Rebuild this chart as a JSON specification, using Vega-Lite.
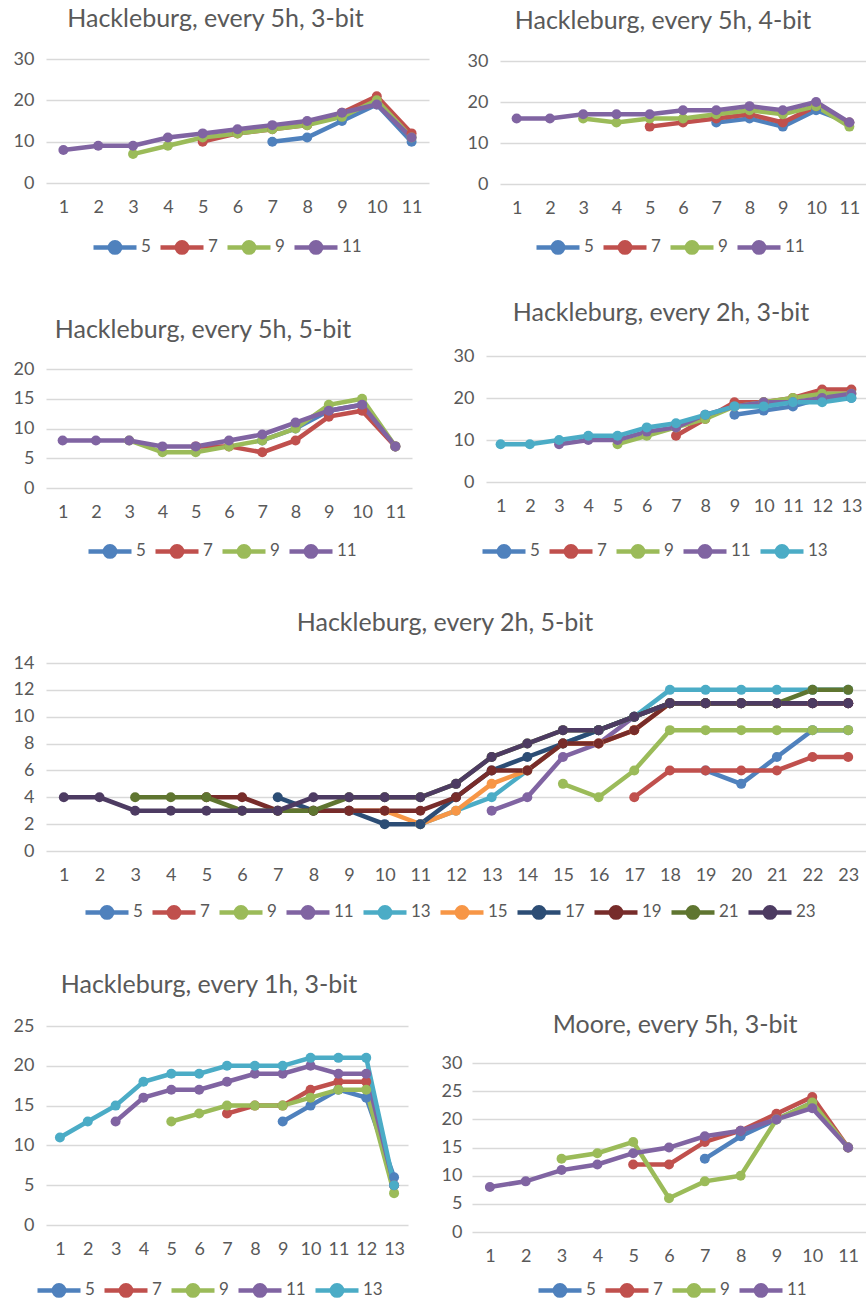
{
"$schema": "https://vega.github.io/schema/vega-lite/v6.json",
"padding": {"top": 7, "left": 13, "right": 0, "bottom": 0},
"background": "white",
"config": {
 "font": "Lato",
 "view": {"stroke": null},
 "axis": {"labelColor": "#595959", "labelFontSize": 18, "ticks": false, "domain": false, "gridColor": "#D9D9D9", "gridWidth": 1.3},
 "axisX": {"grid": false, "labelAngle": 0, "labelPadding": 15},
 "axisY": {"labelPadding": 12},
 "title": {"fontSize": 25, "color": "#595959", "fontWeight": "normal", "offset": 18, "anchor": "middle"},
 "legend": {"orient": "none", "direction": "horizontal", "labelFontSize": 17, "labelColor": "#595959", "symbolType": "M-1,0H1M0.24,0A0.24,0.24,0,1,1,-0.24,0A0.24,0.24,0,1,1,0.24,0Z", "symbolSize": 1849, "symbolStrokeWidth": 4.5, "labelOffset": 2, "columnPadding": 0, "padding": 0, "title": null},
 "line": {"strokeWidth": 4.5},
 "point": {"size": 100, "filled": true, "opacity": 1}
},
"datasets": {
 "p1": [
  {"s":"5","x":7,"v":10},{"s":"5","x":8,"v":11},{"s":"5","x":9,"v":15},{"s":"5","x":10,"v":19},{"s":"5","x":11,"v":10},
  {"s":"7","x":5,"v":10},{"s":"7","x":6,"v":12},{"s":"7","x":7,"v":13},{"s":"7","x":8,"v":14},{"s":"7","x":9,"v":17},{"s":"7","x":10,"v":21},{"s":"7","x":11,"v":12},
  {"s":"9","x":3,"v":7},{"s":"9","x":4,"v":9},{"s":"9","x":5,"v":11},{"s":"9","x":6,"v":12},{"s":"9","x":7,"v":13},{"s":"9","x":8,"v":14},{"s":"9","x":9,"v":16},{"s":"9","x":10,"v":20},{"s":"9","x":11,"v":11},
  {"s":"11","x":1,"v":8},{"s":"11","x":2,"v":9},{"s":"11","x":3,"v":9},{"s":"11","x":4,"v":11},{"s":"11","x":5,"v":12},{"s":"11","x":6,"v":13},{"s":"11","x":7,"v":14},{"s":"11","x":8,"v":15},{"s":"11","x":9,"v":17},{"s":"11","x":10,"v":19},{"s":"11","x":11,"v":11}
 ],
 "p2": [
  {"s":"5","x":7,"v":15},{"s":"5","x":8,"v":16},{"s":"5","x":9,"v":14},{"s":"5","x":10,"v":18},{"s":"5","x":11,"v":15},
  {"s":"7","x":5,"v":14},{"s":"7","x":6,"v":15},{"s":"7","x":7,"v":16},{"s":"7","x":8,"v":17},{"s":"7","x":9,"v":15},{"s":"7","x":10,"v":19},{"s":"7","x":11,"v":15},
  {"s":"9","x":3,"v":16},{"s":"9","x":4,"v":15},{"s":"9","x":5,"v":16},{"s":"9","x":6,"v":16},{"s":"9","x":7,"v":17},{"s":"9","x":8,"v":18},{"s":"9","x":9,"v":17},{"s":"9","x":10,"v":19},{"s":"9","x":11,"v":14},
  {"s":"11","x":1,"v":16},{"s":"11","x":2,"v":16},{"s":"11","x":3,"v":17},{"s":"11","x":4,"v":17},{"s":"11","x":5,"v":17},{"s":"11","x":6,"v":18},{"s":"11","x":7,"v":18},{"s":"11","x":8,"v":19},{"s":"11","x":9,"v":18},{"s":"11","x":10,"v":20},{"s":"11","x":11,"v":15}
 ],
 "p3": [
  {"s":"5","x":7,"v":8},{"s":"5","x":8,"v":10},{"s":"5","x":9,"v":13},{"s":"5","x":10,"v":14},{"s":"5","x":11,"v":7},
  {"s":"7","x":5,"v":7},{"s":"7","x":6,"v":7},{"s":"7","x":7,"v":6},{"s":"7","x":8,"v":8},{"s":"7","x":9,"v":12},{"s":"7","x":10,"v":13},{"s":"7","x":11,"v":7},
  {"s":"9","x":3,"v":8},{"s":"9","x":4,"v":6},{"s":"9","x":5,"v":6},{"s":"9","x":6,"v":7},{"s":"9","x":7,"v":8},{"s":"9","x":8,"v":10},{"s":"9","x":9,"v":14},{"s":"9","x":10,"v":15},{"s":"9","x":11,"v":7},
  {"s":"11","x":1,"v":8},{"s":"11","x":2,"v":8},{"s":"11","x":3,"v":8},{"s":"11","x":4,"v":7},{"s":"11","x":5,"v":7},{"s":"11","x":6,"v":8},{"s":"11","x":7,"v":9},{"s":"11","x":8,"v":11},{"s":"11","x":9,"v":13},{"s":"11","x":10,"v":14},{"s":"11","x":11,"v":7}
 ],
 "p4": [
  {"s":"5","x":9,"v":16},{"s":"5","x":10,"v":17},{"s":"5","x":11,"v":18},{"s":"5","x":12,"v":20},{"s":"5","x":13,"v":20},
  {"s":"7","x":7,"v":11},{"s":"7","x":8,"v":15},{"s":"7","x":9,"v":19},{"s":"7","x":10,"v":19},{"s":"7","x":11,"v":20},{"s":"7","x":12,"v":22},{"s":"7","x":13,"v":22},
  {"s":"9","x":5,"v":9},{"s":"9","x":6,"v":11},{"s":"9","x":7,"v":13},{"s":"9","x":8,"v":15},{"s":"9","x":9,"v":18},{"s":"9","x":10,"v":19},{"s":"9","x":11,"v":20},{"s":"9","x":12,"v":21},{"s":"9","x":13,"v":21},
  {"s":"11","x":3,"v":9},{"s":"11","x":4,"v":10},{"s":"11","x":5,"v":10},{"s":"11","x":6,"v":12},{"s":"11","x":7,"v":13},{"s":"11","x":8,"v":16},{"s":"11","x":9,"v":18},{"s":"11","x":10,"v":19},{"s":"11","x":11,"v":19},{"s":"11","x":12,"v":20},{"s":"11","x":13,"v":21},
  {"s":"13","x":1,"v":9},{"s":"13","x":2,"v":9},{"s":"13","x":3,"v":10},{"s":"13","x":4,"v":11},{"s":"13","x":5,"v":11},{"s":"13","x":6,"v":13},{"s":"13","x":7,"v":14},{"s":"13","x":8,"v":16},{"s":"13","x":9,"v":18},{"s":"13","x":10,"v":18},{"s":"13","x":11,"v":19},{"s":"13","x":12,"v":19},{"s":"13","x":13,"v":20}
 ],
 "p5": [
  {"s":"5","x":19,"v":6},{"s":"5","x":20,"v":5},{"s":"5","x":21,"v":7},{"s":"5","x":22,"v":9},{"s":"5","x":23,"v":9},
  {"s":"7","x":17,"v":4},{"s":"7","x":18,"v":6},{"s":"7","x":19,"v":6},{"s":"7","x":20,"v":6},{"s":"7","x":21,"v":6},{"s":"7","x":22,"v":7},{"s":"7","x":23,"v":7},
  {"s":"9","x":15,"v":5},{"s":"9","x":16,"v":4},{"s":"9","x":17,"v":6},{"s":"9","x":18,"v":9},{"s":"9","x":19,"v":9},{"s":"9","x":20,"v":9},{"s":"9","x":21,"v":9},{"s":"9","x":22,"v":9},{"s":"9","x":23,"v":9},
  {"s":"11","x":13,"v":3},{"s":"11","x":14,"v":4},{"s":"11","x":15,"v":7},{"s":"11","x":16,"v":8},{"s":"11","x":17,"v":10},{"s":"11","x":18,"v":11},{"s":"11","x":19,"v":11},{"s":"11","x":20,"v":11},{"s":"11","x":21,"v":11},{"s":"11","x":22,"v":11},{"s":"11","x":23,"v":11},
  {"s":"13","x":11,"v":2},{"s":"13","x":12,"v":3},{"s":"13","x":13,"v":4},{"s":"13","x":14,"v":6},{"s":"13","x":15,"v":8},{"s":"13","x":16,"v":9},{"s":"13","x":17,"v":10},{"s":"13","x":18,"v":12},{"s":"13","x":19,"v":12},{"s":"13","x":20,"v":12},{"s":"13","x":21,"v":12},{"s":"13","x":22,"v":12},{"s":"13","x":23,"v":12},
  {"s":"15","x":9,"v":3},{"s":"15","x":10,"v":3},{"s":"15","x":11,"v":2},{"s":"15","x":12,"v":3},{"s":"15","x":13,"v":5},{"s":"15","x":14,"v":6},{"s":"15","x":15,"v":8},{"s":"15","x":16,"v":8},{"s":"15","x":17,"v":9},{"s":"15","x":18,"v":11},{"s":"15","x":19,"v":11},{"s":"15","x":20,"v":11},{"s":"15","x":21,"v":11},{"s":"15","x":22,"v":11},{"s":"15","x":23,"v":11},
  {"s":"17","x":7,"v":4},{"s":"17","x":8,"v":3},{"s":"17","x":9,"v":3},{"s":"17","x":10,"v":2},{"s":"17","x":11,"v":2},{"s":"17","x":12,"v":4},{"s":"17","x":13,"v":6},{"s":"17","x":14,"v":7},{"s":"17","x":15,"v":8},{"s":"17","x":16,"v":9},{"s":"17","x":17,"v":10},{"s":"17","x":18,"v":11},{"s":"17","x":19,"v":11},{"s":"17","x":20,"v":11},{"s":"17","x":21,"v":11},{"s":"17","x":22,"v":11},{"s":"17","x":23,"v":11},
  {"s":"19","x":5,"v":4},{"s":"19","x":6,"v":4},{"s":"19","x":7,"v":3},{"s":"19","x":8,"v":3},{"s":"19","x":9,"v":3},{"s":"19","x":10,"v":3},{"s":"19","x":11,"v":3},{"s":"19","x":12,"v":4},{"s":"19","x":13,"v":6},{"s":"19","x":14,"v":6},{"s":"19","x":15,"v":8},{"s":"19","x":16,"v":8},{"s":"19","x":17,"v":9},{"s":"19","x":18,"v":11},{"s":"19","x":19,"v":11},{"s":"19","x":20,"v":11},{"s":"19","x":21,"v":11},{"s":"19","x":22,"v":11},{"s":"19","x":23,"v":11},
  {"s":"21","x":3,"v":4},{"s":"21","x":4,"v":4},{"s":"21","x":5,"v":4},{"s":"21","x":6,"v":3},{"s":"21","x":7,"v":3},{"s":"21","x":8,"v":3},{"s":"21","x":9,"v":4},{"s":"21","x":10,"v":4},{"s":"21","x":11,"v":4},{"s":"21","x":12,"v":5},{"s":"21","x":13,"v":7},{"s":"21","x":14,"v":8},{"s":"21","x":15,"v":9},{"s":"21","x":16,"v":9},{"s":"21","x":17,"v":10},{"s":"21","x":18,"v":11},{"s":"21","x":19,"v":11},{"s":"21","x":20,"v":11},{"s":"21","x":21,"v":11},{"s":"21","x":22,"v":12},{"s":"21","x":23,"v":12},
  {"s":"23","x":1,"v":4},{"s":"23","x":2,"v":4},{"s":"23","x":3,"v":3},{"s":"23","x":4,"v":3},{"s":"23","x":5,"v":3},{"s":"23","x":6,"v":3},{"s":"23","x":7,"v":3},{"s":"23","x":8,"v":4},{"s":"23","x":9,"v":4},{"s":"23","x":10,"v":4},{"s":"23","x":11,"v":4},{"s":"23","x":12,"v":5},{"s":"23","x":13,"v":7},{"s":"23","x":14,"v":8},{"s":"23","x":15,"v":9},{"s":"23","x":16,"v":9},{"s":"23","x":17,"v":10},{"s":"23","x":18,"v":11},{"s":"23","x":19,"v":11},{"s":"23","x":20,"v":11},{"s":"23","x":21,"v":11},{"s":"23","x":22,"v":11},{"s":"23","x":23,"v":11}
 ],
 "p6": [
  {"s":"5","x":9,"v":13},{"s":"5","x":10,"v":15},{"s":"5","x":11,"v":17},{"s":"5","x":12,"v":16},{"s":"5","x":13,"v":6},
  {"s":"7","x":7,"v":14},{"s":"7","x":8,"v":15},{"s":"7","x":9,"v":15},{"s":"7","x":10,"v":17},{"s":"7","x":11,"v":18},{"s":"7","x":12,"v":18},{"s":"7","x":13,"v":5},
  {"s":"9","x":5,"v":13},{"s":"9","x":6,"v":14},{"s":"9","x":7,"v":15},{"s":"9","x":8,"v":15},{"s":"9","x":9,"v":15},{"s":"9","x":10,"v":16},{"s":"9","x":11,"v":17},{"s":"9","x":12,"v":17},{"s":"9","x":13,"v":4},
  {"s":"11","x":3,"v":13},{"s":"11","x":4,"v":16},{"s":"11","x":5,"v":17},{"s":"11","x":6,"v":17},{"s":"11","x":7,"v":18},{"s":"11","x":8,"v":19},{"s":"11","x":9,"v":19},{"s":"11","x":10,"v":20},{"s":"11","x":11,"v":19},{"s":"11","x":12,"v":19},{"s":"11","x":13,"v":5},
  {"s":"13","x":1,"v":11},{"s":"13","x":2,"v":13},{"s":"13","x":3,"v":15},{"s":"13","x":4,"v":18},{"s":"13","x":5,"v":19},{"s":"13","x":6,"v":19},{"s":"13","x":7,"v":20},{"s":"13","x":8,"v":20},{"s":"13","x":9,"v":20},{"s":"13","x":10,"v":21},{"s":"13","x":11,"v":21},{"s":"13","x":12,"v":21},{"s":"13","x":13,"v":5}
 ],
 "p7": [
  {"s":"5","x":7,"v":13},{"s":"5","x":8,"v":17},{"s":"5","x":9,"v":20},{"s":"5","x":10,"v":23},{"s":"5","x":11,"v":15},
  {"s":"7","x":5,"v":12},{"s":"7","x":6,"v":12},{"s":"7","x":7,"v":16},{"s":"7","x":8,"v":18},{"s":"7","x":9,"v":21},{"s":"7","x":10,"v":24},{"s":"7","x":11,"v":15},
  {"s":"9","x":3,"v":13},{"s":"9","x":4,"v":14},{"s":"9","x":5,"v":16},{"s":"9","x":6,"v":6},{"s":"9","x":7,"v":9},{"s":"9","x":8,"v":10},{"s":"9","x":9,"v":20},{"s":"9","x":10,"v":23},{"s":"9","x":11,"v":15},
  {"s":"11","x":1,"v":8},{"s":"11","x":2,"v":9},{"s":"11","x":3,"v":11},{"s":"11","x":4,"v":12},{"s":"11","x":5,"v":14},{"s":"11","x":6,"v":15},{"s":"11","x":7,"v":17},{"s":"11","x":8,"v":18},{"s":"11","x":9,"v":20},{"s":"11","x":10,"v":22},{"s":"11","x":11,"v":15}
 ]
},
"resolve": {"scale": {"x": "independent", "y": "independent", "stroke": "independent", "fill": "independent"}, "legend": {"stroke": "independent", "fill": "independent"}},
"spacing": 0,
"vconcat": [
 {
  "hconcat": [
   {
    "title": {"text": "Hackleburg, every 5h, 3-bit", "dx": -22},
    "width": 383, "height": 124,
    "data": {"name": "p1"},
    "encoding": {
     "x": {"field": "x", "type": "ordinal", "title": null, "scale": {"domain": [1,2,3,4,5,6,7,8,9,10,11]}},
     "y": {"field": "v", "type": "quantitative", "title": null, "scale": {"domain": [0,30]}, "axis": {"values": [0,10,20,30]}}
    },
    "layer": [
     {"mark": "line", "encoding": {"stroke": {"field": "s", "type": "nominal", "scale": {"domain": ["5","7","9","11"], "range": ["#4F81BD","#C0504D","#9BBB59","#8064A2"]}, "legend": {"legendX": 45, "legendY": 164}}}},
     {"mark": "point", "encoding": {"fill": {"field": "s", "type": "nominal", "scale": {"domain": ["5","7","9","11"], "range": ["#4F81BD","#C0504D","#9BBB59","#8064A2"]}, "legend": {"legendX": 45, "legendY": 164}}}}
    ]
   },
   {
    "title": {"text": "Hackleburg, every 5h, 4-bit", "dx": -20},
    "width": 366, "height": 125,
    "data": {"name": "p2"},
    "encoding": {
     "x": {"field": "x", "type": "ordinal", "title": null, "scale": {"domain": [1,2,3,4,5,6,7,8,9,10,11]}},
     "y": {"field": "v", "type": "quantitative", "title": null, "scale": {"domain": [0,30.5], "nice": false}, "axis": {"values": [0,10,20,30]}}
    },
    "layer": [
     {"mark": "line", "encoding": {"stroke": {"field": "s", "type": "nominal", "scale": {"domain": ["5","7","9","11"], "range": ["#4F81BD","#C0504D","#9BBB59","#8064A2"]}, "legend": {"legendX": 34, "legendY": 164}}}},
     {"mark": "point", "encoding": {"fill": {"field": "s", "type": "nominal", "scale": {"domain": ["5","7","9","11"], "range": ["#4F81BD","#C0504D","#9BBB59","#8064A2"]}, "legend": {"legendX": 34, "legendY": 164}}}}
    ]
   }
  ],
  "spacing": 38,
  "resolve": {"scale": {"x": "independent", "y": "independent", "stroke": "independent", "fill": "independent"}, "legend": {"stroke": "independent", "fill": "independent"}}
 },
 {"width": 1, "height": 39, "data": {"values": [{"a": 1}]}, "mark": {"type": "point", "opacity": 0}},
 {
  "hconcat": [
   {
    "title": {"text": "Hackleburg, every 5h, 5-bit", "dx": -26, "offset": 13},
    "width": 366, "height": 132,
    "data": {"name": "p3"},
    "encoding": {
     "x": {"field": "x", "type": "ordinal", "title": null, "scale": {"domain": [1,2,3,4,5,6,7,8,9,10,11]}},
     "y": {"field": "v", "type": "quantitative", "title": null, "scale": {"domain": [0,22.2], "nice": false}, "axis": {"values": [0,5,10,15,20]}}
    },
    "layer": [
     {"mark": "line", "encoding": {"stroke": {"field": "s", "type": "nominal", "scale": {"domain": ["5","7","9","11"], "range": ["#4F81BD","#C0504D","#9BBB59","#8064A2"]}, "legend": {"legendX": 40, "legendY": 171}}}},
     {"mark": "point", "encoding": {"fill": {"field": "s", "type": "nominal", "scale": {"domain": ["5","7","9","11"], "range": ["#4F81BD","#C0504D","#9BBB59","#8064A2"]}, "legend": {"legendX": 40, "legendY": 171}}}}
    ]
   },
   {
    "title": {"text": "Hackleburg, every 2h, 3-bit", "dx": -15, "offset": 21},
    "width": 380, "height": 126,
    "data": {"name": "p4"},
    "encoding": {
     "x": {"field": "x", "type": "ordinal", "title": null, "scale": {"domain": [1,2,3,4,5,6,7,8,9,10,11,12,13]}},
     "y": {"field": "v", "type": "quantitative", "title": null, "scale": {"domain": [0,30]}, "axis": {"values": [0,10,20,30]}}
    },
    "layer": [
     {"mark": "line", "encoding": {"stroke": {"field": "s", "type": "nominal", "scale": {"domain": ["5","7","9","11","13"], "range": ["#4F81BD","#C0504D","#9BBB59","#8064A2","#4BACC6"]}, "legend": {"legendX": -6, "legendY": 171}}}},
     {"mark": "point", "encoding": {"fill": {"field": "s", "type": "nominal", "scale": {"domain": ["5","7","9","11","13"], "range": ["#4F81BD","#C0504D","#9BBB59","#8064A2","#4BACC6"]}, "legend": {"legendX": -6, "legendY": 171}}}}
    ]
   }
  ],
  "spacing": 41,
  "resolve": {"scale": {"x": "independent", "y": "independent", "stroke": "independent", "fill": "independent"}, "legend": {"stroke": "independent", "fill": "independent"}}
 },
 {"width": 1, "height": 45, "data": {"values": [{"a": 1}]}, "mark": {"type": "point", "opacity": 0}},
 {
  "title": {"text": "Hackleburg, every 2h, 5-bit", "dx": -11},
  "width": 820, "height": 188,
  "data": {"name": "p5"},
  "encoding": {
   "x": {"field": "x", "type": "ordinal", "title": null, "scale": {"domain": [1,2,3,4,5,6,7,8,9,10,11,12,13,14,15,16,17,18,19,20,21,22,23]}},
   "y": {"field": "v", "type": "quantitative", "title": null, "scale": {"domain": [0,14]}, "axis": {"values": [0,2,4,6,8,10,12,14]}}
  },
  "layer": [
   {"mark": "line", "encoding": {"stroke": {"field": "s", "type": "nominal", "scale": {"domain": ["5","7","9","11","13","15","17","19","21","23"], "range": ["#4F81BD","#C0504D","#9BBB59","#8064A2","#4BACC6","#F79646","#2C4D75","#772C2A","#5F7530","#4D3B62"]}, "legend": {"legendX": 37, "legendY": 225}}}},
   {"mark": "point", "encoding": {"fill": {"field": "s", "type": "nominal", "scale": {"domain": ["5","7","9","11","13","15","17","19","21","23"], "range": ["#4F81BD","#C0504D","#9BBB59","#8064A2","#4BACC6","#F79646","#2C4D75","#772C2A","#5F7530","#4D3B62"]}, "legend": {"legendX": 37, "legendY": 225}}}}
  ]
 },
 {"width": 1, "height": 46, "data": {"values": [{"a": 1}]}, "mark": {"type": "point", "opacity": 0}},
 {
  "hconcat": [
   {
    "title": {"text": "Hackleburg, every 1h, 3-bit", "dx": -18, "offset": 19},
    "width": 362, "height": 199,
    "data": {"name": "p6"},
    "encoding": {
     "x": {"field": "x", "type": "ordinal", "title": null, "scale": {"domain": [1,2,3,4,5,6,7,8,9,10,11,12,13]}},
     "y": {"field": "v", "type": "quantitative", "title": null, "scale": {"domain": [0,25]}, "axis": {"values": [0,5,10,15,20,25]}}
    },
    "layer": [
     {"mark": "line", "encoding": {"stroke": {"field": "s", "type": "nominal", "scale": {"domain": ["5","7","9","11","13"], "range": ["#4F81BD","#C0504D","#9BBB59","#8064A2","#4BACC6"]}, "legend": {"legendX": -11, "legendY": 240}}}},
     {"mark": "point", "encoding": {"fill": {"field": "s", "type": "nominal", "scale": {"domain": ["5","7","9","11","13"], "range": ["#4F81BD","#C0504D","#9BBB59","#8064A2","#4BACC6"]}, "legend": {"legendX": -11, "legendY": 240}}}}
    ]
   },
   {
    "title": {"text": "Moore, every 5h, 3-bit", "dx": 6, "offset": 18, "dy": 30},
    "width": 394, "height": 206,
    "data": {"name": "p7"},
    "encoding": {
     "x": {"field": "x", "type": "ordinal", "title": null, "scale": {"domain": [1,2,3,4,5,6,7,8,9,10,11]}},
     "y": {"field": "v", "type": "quantitative", "title": null, "scale": {"domain": [0,36.6], "nice": false}, "axis": {"values": [0,5,10,15,20,25,30], "labelPadding": 10}}
    },
    "layer": [
     {"mark": "line", "encoding": {"stroke": {"field": "s", "type": "nominal", "scale": {"domain": ["5","7","9","11"], "range": ["#4F81BD","#C0504D","#9BBB59","#8064A2"]}, "legend": {"legendX": 64, "legendY": 240}}}},
     {"mark": "point", "encoding": {"fill": {"field": "s", "type": "nominal", "scale": {"domain": ["5","7","9","11"], "range": ["#4F81BD","#C0504D","#9BBB59","#8064A2"]}, "legend": {"legendX": 64, "legendY": 240}}}}
    ]
   }
  ],
  "spacing": 33,
  "resolve": {"scale": {"x": "independent", "y": "independent", "stroke": "independent", "fill": "independent"}, "legend": {"stroke": "independent", "fill": "independent"}}
 }
]
}
